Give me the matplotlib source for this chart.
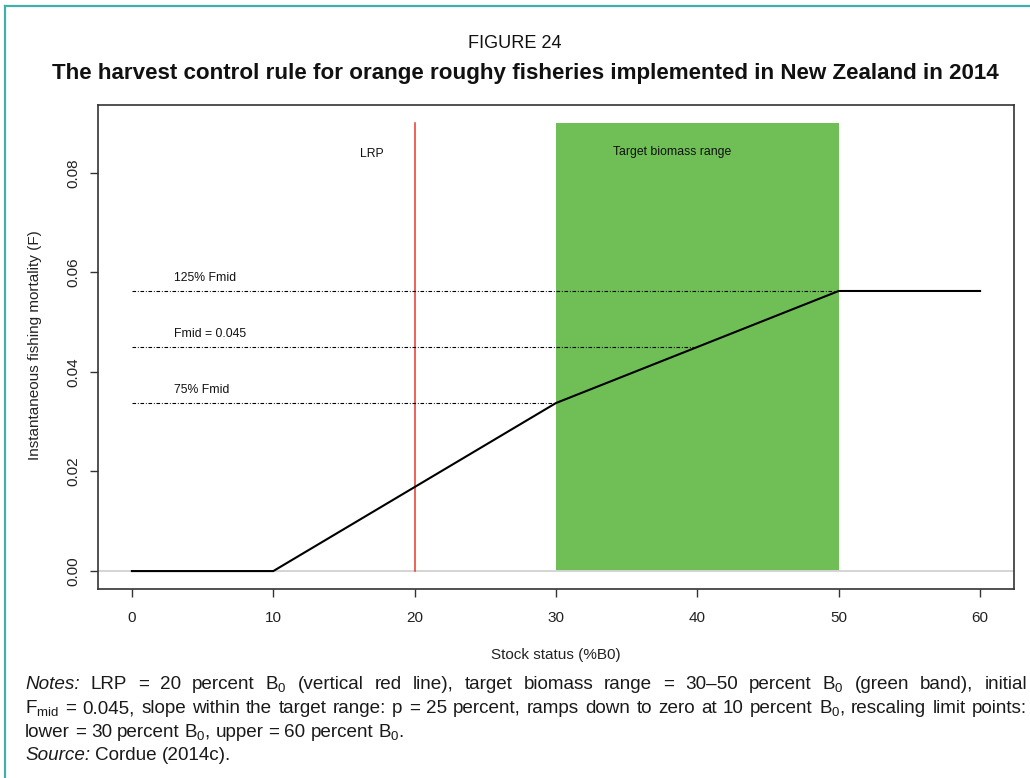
import matplotlib
matplotlib.use("Agg")
import matplotlib.pyplot as plt
from matplotlib.lines import Line2D

# ---------------- data ----------------
hcr_x = [0, 10, 30, 50, 60]
hcr_f = [0.0, 0.0, 0.03375, 0.05625, 0.05625]
lrp = 20
target_lo, target_hi = 30, 50
band_top = 0.09
ref_levels = [0.05625, 0.045, 0.03375]
ref_ends = [50, 40, 30]
ref_labels = ["125% Fmid", "Fmid = 0.045", "75% Fmid"]
x_ticks = [0, 10, 20, 30, 40, 50, 60]
y_ticks = [0.00, 0.02, 0.04, 0.06, 0.08]

W, H = 1030, 778
DPI = 100
SANS = ['Liberation Sans', 'DejaVu Sans']
plt.rcParams['font.family'] = SANS
plt.rcParams['mathtext.fontset'] = 'custom'
plt.rcParams['mathtext.rm'] = 'Liberation Sans'
plt.rcParams['mathtext.it'] = 'Liberation Sans:italic'
plt.rcParams['mathtext.bf'] = 'Liberation Sans:bold'

fig = plt.figure(figsize=(W / DPI, H / DPI), dpi=DPI)

def fx(px):
    return px / W

def fy(py):
    return 1 - py / H

# teal frame (top and left)
fig.add_artist(Line2D([fx(5), fx(W)], [fy(6), fy(6)], color='#3fb1aa', lw=1.6))
fig.add_artist(Line2D([fx(5), fx(5)], [fy(6), fy(H)], color='#3fb1aa', lw=1.6))

ax = fig.add_axes([fx(98), fy(589), fx(1014) - fx(98), fy(105) - fy(589)])
ax.set_xlim(-2.4, 62.4)
ax.set_ylim(-0.0036, 0.0936)

# green band and LRP
ax.fill_between([target_lo, target_hi], 0, band_top, color='#70bf56', lw=0, zorder=1)
ax.axhline(0, color='#d4d4d4', lw=1.4, zorder=2)
ax.plot([lrp, lrp], [0, band_top], color='#e8372c', lw=1.1, zorder=3)

# reference lines
for lvl, end, lab in zip(ref_levels, ref_ends, ref_labels):
    ax.plot([0, end], [lvl, lvl], color='black', lw=0.8,
            linestyle=(0, (3.2, 1.6, 0.8, 1.6)), zorder=4)
    ax.text(3.0, lvl + 0.0027, lab, fontsize=8.8, ha='left', va='center', color='#111111')

ax.plot(hcr_x, hcr_f, color='black', lw=1.5, zorder=5, solid_joinstyle='miter')

ax.text(17.0, 0.0838, "LRP", fontsize=8.8, ha='center', va='center', color='#111111')
ax.text(38.2, 0.0842, "Target biomass range", fontsize=8.8, ha='center', va='center', color='#111111')

ax.set_xticks(x_ticks)
ax.set_xticklabels([str(v) for v in x_ticks])
ax.set_yticks(y_ticks)
ax.set_yticklabels([f"{v:.2f}" for v in y_ticks], rotation=90, va='center')
ax.tick_params(axis='both', direction='out', length=6, width=1, color='#333333',
               labelsize=11, labelcolor='#222222')
ax.tick_params(axis='x', pad=10)
ax.tick_params(axis='y', pad=7)
for s in ax.spines.values():
    s.set_color('#333333')
    s.set_linewidth(1.2)

fig.text(fx(556), fy(655), "Stock status (%B0)", fontsize=11, ha='center', va='center', color='#222222')
fig.text(fx(35), fy(345), "Instantaneous fishing mortality (F)", fontsize=11,
         ha='center', va='center', rotation=90, color='#222222')

# titles
fig.canvas.draw()
rend = fig.canvas.get_renderer()

t0 = fig.text(fx(515), fy(44), "FIGURE 24", fontsize=14, ha='center', va='center', color='#111111')
t0.set_fontsize(14 * 94 / t0.get_window_extent(rend).width)
t = fig.text(fx(525), fy(73), "The harvest control rule for orange roughy fisheries implemented in New Zealand in 2014",
             fontsize=15, fontweight='bold', ha='center', va='center', color='#111111')
t.set_fontsize(15 * 950 / t.get_window_extent(rend).width)

# notes, justified
NOTE_FS = 13.6
lines = [
    [("Notes:", 'italic'), ("LRP", 'normal'), ("=", 'normal'), ("20", 'normal'), ("percent", 'normal'),
     ("B$_0$", 'normal'), ("(vertical", 'normal'), ("red", 'normal'), ("line),", 'normal'),
     ("target", 'normal'), ("biomass", 'normal'), ("range", 'normal'), ("=", 'normal'),
     ("30–50", 'normal'), ("percent", 'normal'), ("B$_0$", 'normal'), ("(green", 'normal'),
     ("band),", 'normal'), ("initial", 'normal')],
    [("F$_\\mathrm{mid}$", 'normal'), ("=", 'normal'), ("0.045,", 'normal'), ("slope", 'normal'),
     ("within", 'normal'), ("the", 'normal'), ("target", 'normal'), ("range:", 'normal'),
     ("p", 'normal'), ("=", 'normal'), ("25", 'normal'), ("percent,", 'normal'), ("ramps", 'normal'),
     ("down", 'normal'), ("to", 'normal'), ("zero", 'normal'), ("at", 'normal'), ("10", 'normal'),
     ("percent", 'normal'), ("B$_0$,", 'normal'), ("rescaling", 'normal'), ("limit", 'normal'),
     ("points:", 'normal')],
    [("lower", 'normal'), ("=", 'normal'), ("30", 'normal'), ("percent", 'normal'), ("B$_0$,", 'normal'),
     ("upper", 'normal'), ("=", 'normal'), ("60", 'normal'), ("percent", 'normal'), ("B$_0$.", 'normal')],
    [("Source:", 'italic'), ("Cordue", 'normal'), ("(2014c).", 'normal')],
]
line_y = [684, 708, 732, 755]
justify = [True, True, False, False]
x0, x1 = 25, 1027
space_px = 5.0
for words, yy, just in zip(lines, line_y, justify):
    objs = []
    for w, st in words:
        o = fig.text(0, fy(yy + 5), w, fontsize=NOTE_FS, style=st,
                     ha='left', va='baseline', color='#1a1a1a')
        objs.append(o)
    widths = [o.get_window_extent(rend).width for o in objs]
    if just and len(objs) > 1:
        gap = (x1 - x0 - sum(widths)) / (len(objs) - 1)
    else:
        gap = space_px
    cx = x0
    for o, w in zip(objs, widths):
        o.set_x(fx(cx))
        cx += w + gap

fig.savefig("out.png", dpi=DPI, facecolor='white')
